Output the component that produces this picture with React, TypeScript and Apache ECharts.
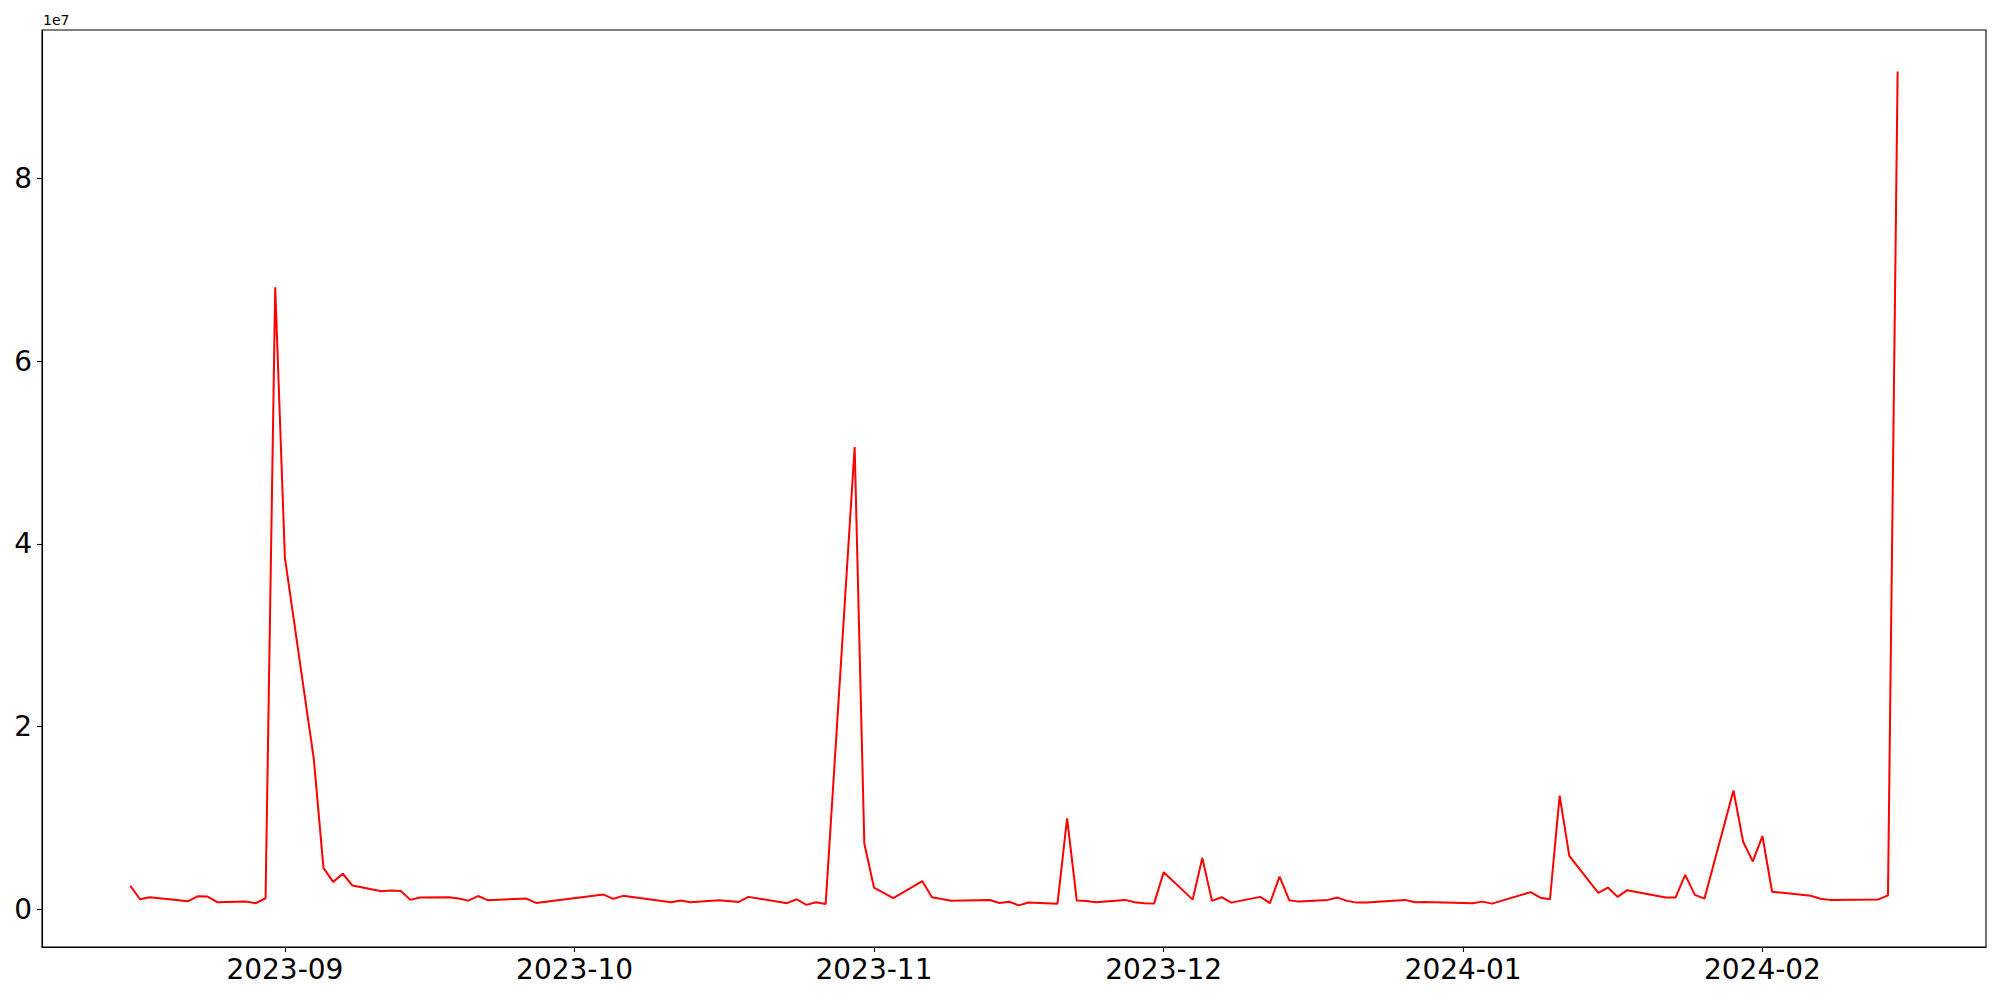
import React, { useEffect, useRef } from "react";
import * as echarts from "echarts";

const dates: string[] = [
  "2023-08-16", "2023-08-17", "2023-08-18", "2023-08-22", "2023-08-23", "2023-08-24", "2023-08-25",
  "2023-08-28", "2023-08-29", "2023-08-30", "2023-08-31", "2023-09-01", "2023-09-04", "2023-09-05",
  "2023-09-06", "2023-09-07", "2023-09-08", "2023-09-11", "2023-09-12", "2023-09-13", "2023-09-14",
  "2023-09-15", "2023-09-18", "2023-09-19", "2023-09-20", "2023-09-21", "2023-09-22", "2023-09-26",
  "2023-09-27", "2023-10-04", "2023-10-05", "2023-10-06", "2023-10-11", "2023-10-12", "2023-10-13",
  "2023-10-16", "2023-10-18", "2023-10-19", "2023-10-23", "2023-10-24", "2023-10-25", "2023-10-26",
  "2023-10-27", "2023-10-30", "2023-10-31", "2023-11-01", "2023-11-03", "2023-11-06", "2023-11-07",
  "2023-11-09", "2023-11-13", "2023-11-14", "2023-11-15", "2023-11-16", "2023-11-17", "2023-11-20",
  "2023-11-21", "2023-11-22", "2023-11-23", "2023-11-24", "2023-11-27", "2023-11-28", "2023-11-29",
  "2023-11-30", "2023-12-01", "2023-12-04", "2023-12-05", "2023-12-06", "2023-12-07", "2023-12-08",
  "2023-12-11", "2023-12-12", "2023-12-13", "2023-12-14", "2023-12-15", "2023-12-18", "2023-12-19",
  "2023-12-20", "2023-12-21", "2023-12-22", "2023-12-26", "2023-12-27", "2023-12-28", "2024-01-02",
  "2024-01-03", "2024-01-04", "2024-01-08", "2024-01-09", "2024-01-10", "2024-01-11", "2024-01-12",
  "2024-01-15", "2024-01-16", "2024-01-17", "2024-01-18", "2024-01-22", "2024-01-23", "2024-01-24",
  "2024-01-25", "2024-01-26", "2024-01-29", "2024-01-30", "2024-01-31", "2024-02-01", "2024-02-02",
  "2024-02-06", "2024-02-07", "2024-02-08", "2024-02-13", "2024-02-14", "2024-02-15",
];

const values: number[] = [
  2.56e6, 1.1e6, 1.32e6, 0.89e6, 1.43e6, 1.39e6, 0.78e6,
  0.84e6, 0.67e6, 1.21e6, 6.81e7, 3.85e7, 1.64e7, 4.5e6,
  3.0e6, 3.89e6, 2.6e6, 1.98e6, 2.05e6, 2.0e6, 1.03e6,
  1.28e6, 1.32e6, 1.17e6, 0.95e6, 1.45e6, 1.0e6, 1.17e6,
  0.7e6, 1.61e6, 1.14e6, 1.47e6, 0.78e6, 0.95e6, 0.78e6,
  1.0e6, 0.81e6, 1.36e6, 0.67e6, 1.1e6, 0.48e6, 0.78e6,
  0.59e6, 5.06e7, 7.2e6, 2.37e6, 1.21e6, 3.09e6, 1.32e6,
  0.94e6, 1.02e6, 0.68e6, 0.82e6, 0.43e6, 0.75e6, 0.6e6,
  9.95e6, 0.95e6, 0.92e6, 0.78e6, 1.03e6, 0.78e6, 0.67e6,
  0.62e6, 4.06e6, 1.06e6, 5.63e6, 0.92e6, 1.32e6, 0.73e6,
  1.36e6, 0.67e6, 3.58e6, 1.0e6, 0.84e6, 1.03e6, 1.28e6,
  0.92e6, 0.73e6, 0.73e6, 1.03e6, 0.78e6, 0.8e6, 0.67e6,
  0.84e6, 0.62e6, 1.88e6, 1.27e6, 1.1e6, 1.245e7, 5.85e6,
  1.8e6, 2.38e6, 1.36e6, 2.09e6, 1.28e6, 1.28e6, 3.77e6,
  1.58e6, 1.17e6, 1.3e7, 7.4e6, 5.25e6, 8.02e6, 1.92e6,
  1.48e6, 1.15e6, 1.03e6, 1.08e6, 1.53e6, 9.17e7,
];

const xTickDates: string[] = ["2023-09-01", "2023-10-01", "2023-11-01", "2023-12-01", "2024-01-01", "2024-02-01"];
const xTickLabels: string[] = ["2023-09", "2023-10", "2023-11", "2023-12", "2024-01", "2024-02"];
const yTickValues: number[] = [0, 2e7, 4e7, 6e7, 8e7];
const yTickLabels: string[] = ["0", "2", "4", "6", "8"];
const xRange: string[] = ["2023-08-06T20:24:00Z", "2024-02-24T03:36:00Z"];
const yRange: number[] = [-4.128e6, 9.625e7];
const offsetText = "1e7";

const FONT = "DejaVu Sans";

export default function App() {
  const ref = useRef<HTMLDivElement>(null);
  useEffect(() => {
    if (!ref.current) return;
    const chart = echarts.init(ref.current, undefined, { renderer: "svg" });
    const xTicks = xTickDates.map((d) => Date.parse(d));
    const seriesData = dates.map((d, i) => [Date.parse(d), values[i]]);
    chart.setOption({
      animation: false,
      backgroundColor: "#ffffff",
      grid: {
        left: 42,
        top: 30,
        right: 14,
        bottom: 53,
        show: true,
        borderColor: "#000",
        borderWidth: 1.1,
        backgroundColor: "transparent",
      },
      graphic: [
        {
          type: "text",
          left: 43,
          top: 13,
          style: { text: offsetText, fontSize: 14, fontFamily: FONT, fill: "#000" },
        },
      ],
      xAxis: {
        type: "value",
        min: Date.parse(xRange[0]),
        max: Date.parse(xRange[1]),
        splitLine: { show: false },
        axisLine: { show: true, onZero: false, lineStyle: { color: "#000", width: 1.1 } },
        axisTick: {
          show: true,
          length: 5,
          customValues: xTicks,
          lineStyle: { color: "#000", width: 1.1 },
        },
        axisLabel: {
          show: true,
          customValues: xTicks,
          margin: 8,
          fontSize: 28,
          fontFamily: FONT,
          color: "#000",
          formatter: (v: number) => {
            const idx = xTicks.indexOf(v);
            return idx >= 0 ? xTickLabels[idx] : "";
          },
        },
      },
      yAxis: {
        type: "value",
        min: yRange[0],
        max: yRange[1],
        splitLine: { show: false },
        axisLine: { show: true, onZero: false, lineStyle: { color: "#000", width: 1.1 } },
        axisTick: {
          show: true,
          length: 5,
          customValues: yTickValues,
          lineStyle: { color: "#000", width: 1.1 },
        },
        axisLabel: {
          show: true,
          customValues: yTickValues,
          margin: 10,
          fontSize: 28,
          fontFamily: FONT,
          color: "#000",
          formatter: (v: number) => {
            const idx = yTickValues.indexOf(v);
            return idx >= 0 ? yTickLabels[idx] : "";
          },
        },
      },
      series: [
        {
          type: "line",
          data: seriesData,
          showSymbol: false,
          symbol: "none",
          lineStyle: { color: "#ff0000", width: 2 },
          itemStyle: { color: "#ff0000" },
        },
      ],
    });
    return () => chart.dispose();
  }, []);
  return (
    <div
      ref={ref}
      style={{ position: "fixed", left: 0, top: 0, width: 2000, height: 1000, background: "#fff" }}
    />
  );
}
